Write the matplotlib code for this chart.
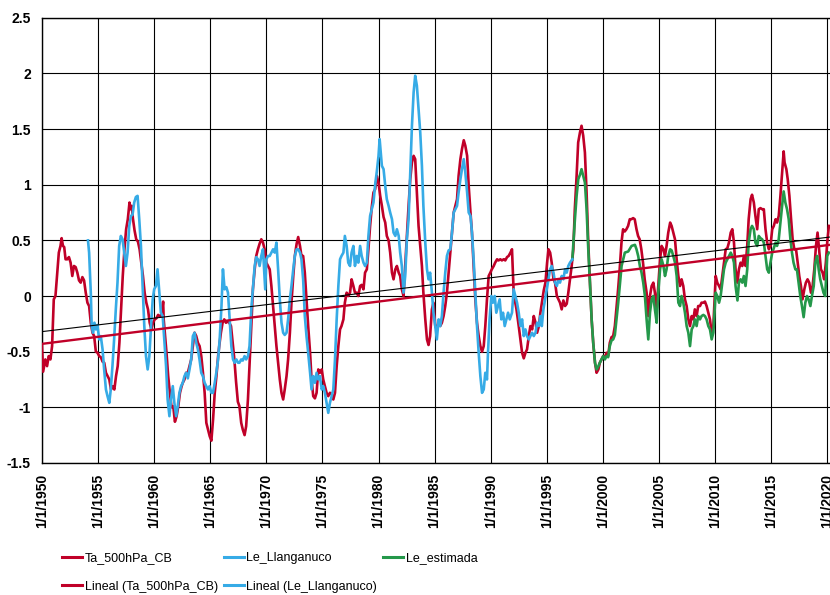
import numpy as np
import matplotlib
matplotlib.use("Agg")
import matplotlib.pyplot as plt
from matplotlib.lines import Line2D

# -----------------------------
# Data (decimal years, anomaly values)
ta_years = [1950.0, 1950.1, 1950.3, 1950.45, 1950.6, 1950.75, 1950.9, 1951.05, 1951.2, 1951.5,
            1951.65, 1951.75, 1951.87, 1951.98, 1952.1, 1952.25, 1952.4, 1952.55, 1952.7, 1952.85,
            1953.0, 1953.15, 1953.3, 1953.45, 1953.6, 1953.75, 1953.9, 1954.05, 1954.2, 1954.35,
            1954.5, 1954.65, 1954.8, 1954.95, 1955.1, 1955.25, 1955.4, 1955.55, 1955.7, 1956.0,
            1956.15, 1956.3, 1956.45, 1956.6, 1956.75, 1956.9, 1957.05, 1957.2, 1957.35, 1957.5,
            1957.65, 1957.8, 1957.9, 1958.0, 1958.1, 1958.25, 1958.4, 1958.55, 1958.7, 1958.85,
            1959.0, 1959.15, 1959.3, 1959.45, 1959.6, 1959.75, 1959.9, 1960.05, 1960.2, 1960.35,
            1960.5, 1960.65, 1960.8, 1960.85, 1960.95, 1961.1, 1961.25, 1961.4, 1961.55, 1961.7,
            1961.85, 1962.0, 1962.15, 1962.3, 1962.45, 1962.55, 1962.7, 1962.85, 1963.0, 1963.15,
            1963.3, 1963.45, 1963.6, 1963.75, 1963.9, 1964.05, 1964.2, 1964.35, 1964.5, 1964.65,
            1964.8, 1964.95, 1965.1, 1965.25, 1965.4, 1965.55, 1965.7, 1965.8, 1965.95, 1966.1,
            1966.25, 1966.4, 1966.55, 1966.7, 1966.85, 1967.0, 1967.15, 1967.3, 1967.46, 1967.6,
            1967.76, 1967.9, 1968.06, 1968.2, 1968.36, 1968.5, 1968.66, 1968.8, 1968.96, 1969.1,
            1969.25, 1969.4, 1969.55, 1969.7, 1969.85, 1970.0, 1970.15, 1970.3, 1970.45, 1970.6,
            1970.75, 1970.9, 1971.05, 1971.2, 1971.35, 1971.5, 1971.64, 1971.8, 1971.94, 1972.1,
            1972.24, 1972.4, 1972.54, 1972.7, 1972.84, 1973.0, 1973.13, 1973.28, 1973.43, 1973.58,
            1973.73, 1973.9, 1974.03, 1974.18, 1974.33, 1974.48, 1974.63, 1974.78, 1974.94, 1975.07,
            1975.22, 1975.37, 1975.52, 1975.67, 1975.82, 1975.97, 1976.12, 1976.27, 1976.42, 1976.57,
            1976.7, 1976.87, 1977.0, 1977.16, 1977.3, 1977.46, 1977.6, 1977.76, 1977.9, 1978.06,
            1978.2, 1978.36, 1978.5, 1978.66, 1978.8, 1978.96, 1979.1, 1979.25, 1979.4, 1979.55,
            1979.7, 1979.85, 1980.0, 1980.15, 1980.3, 1980.45, 1980.6, 1980.74, 1980.9, 1981.04,
            1981.2, 1981.34, 1981.5, 1981.64, 1981.8, 1981.93, 1982.08, 1982.23, 1982.38, 1982.53,
            1982.68, 1982.83, 1982.98, 1983.13, 1983.27, 1983.42, 1983.57, 1983.72, 1983.87, 1984.0,
            1984.17, 1984.32, 1984.46, 1984.6, 1984.76, 1984.9, 1985.06, 1985.2, 1985.36, 1985.5,
            1985.65, 1985.8, 1985.95, 1986.1, 1986.25, 1986.4, 1986.55, 1986.7, 1986.85, 1987.0,
            1987.14, 1987.3, 1987.44, 1987.6, 1987.74, 1987.9, 1988.04, 1988.2, 1988.33, 1988.48,
            1988.63, 1988.78, 1988.93, 1989.08, 1989.23, 1989.38, 1989.52, 1989.67, 1989.82, 1989.97,
            1990.1, 1990.27, 1990.4, 1990.57, 1990.7, 1990.86, 1991.0, 1991.16, 1991.3, 1991.46,
            1991.6, 1991.76, 1991.9, 1992.05, 1992.14, 1992.3, 1992.5, 1992.65, 1992.8, 1992.95,
            1993.1, 1993.24, 1993.4, 1993.54, 1993.7, 1993.84, 1994.0, 1994.14, 1994.3, 1994.43,
            1994.58, 1994.73, 1994.88, 1995.03, 1995.15, 1995.3, 1995.44, 1995.6, 1995.74, 1995.9,
            1996.04, 1996.18, 1996.33, 1996.48, 1996.63, 1996.78, 1996.92, 1997.07, 1997.22, 1997.37,
            1997.5, 1997.66, 1997.8, 1997.96, 1998.1, 1998.25, 1998.4, 1998.55, 1998.7, 1998.85,
            1999.0, 1999.14, 1999.3, 1999.44, 1999.6, 1999.73, 1999.88, 2000.03, 2000.18, 2000.33,
            2000.47, 2000.62, 2000.77, 2000.92, 2001.07, 2001.2, 2001.36, 2001.5, 2001.66, 2001.8,
            2001.95, 2002.1, 2002.25, 2002.4, 2002.54, 2002.7, 2002.84, 2003.0, 2003.14, 2003.28,
            2003.43, 2003.58, 2003.73, 2003.9, 2004.05, 2004.2, 2004.35, 2004.5, 2004.64, 2004.8,
            2004.94, 2005.1, 2005.24, 2005.4, 2005.54, 2005.68, 2005.83, 2006.0, 2006.13, 2006.28,
            2006.43, 2006.58, 2006.73, 2006.88, 2007.02, 2007.17, 2007.32, 2007.47, 2007.62, 2007.77,
            2007.92, 2008.07, 2008.2, 2008.36, 2008.5, 2008.66, 2008.8, 2008.96, 2009.1, 2009.25,
            2009.4, 2009.55, 2009.7, 2009.85, 2010.06, 2010.2, 2010.36, 2010.5, 2010.65, 2010.8,
            2010.95, 2011.1, 2011.24, 2011.4, 2011.54, 2011.69, 2011.83, 2012.0, 2012.13, 2012.28,
            2012.43, 2012.57, 2012.72, 2012.87, 2013.0, 2013.17, 2013.3, 2013.46, 2013.6, 2013.76,
            2013.9, 2014.05, 2014.2, 2014.35, 2014.5, 2014.65, 2014.8, 2014.94, 2015.1, 2015.24,
            2015.4, 2015.53, 2015.68, 2015.83, 2015.98, 2016.12, 2016.2, 2016.36, 2016.48, 2016.63,
            2016.78, 2016.92, 2017.07, 2017.22, 2017.37, 2017.51, 2017.66, 2017.8, 2017.96, 2018.1,
            2018.25, 2018.4, 2018.55, 2018.7, 2018.85, 2019.0, 2019.14, 2019.3, 2019.44, 2019.59,
            2019.73, 2019.88, 2020.0, 2020.15]
ta_vals = [-0.45, -0.68, -0.57, -0.63, -0.54, -0.57, -0.45, -0.03, 0.0, 0.39,
           0.45, 0.52, 0.45, 0.44, 0.33, 0.33, 0.35, 0.30, 0.18, 0.27,
           0.26, 0.21, 0.14, 0.12, 0.17, 0.14, 0.03, -0.06, -0.09, -0.24,
           -0.33, -0.36, -0.50, -0.51, -0.54, -0.55, -0.59, -0.60, -0.69, -0.75,
           -0.84, -0.81, -0.84, -0.72, -0.63, -0.42, -0.12, 0.18, 0.42, 0.60,
           0.69, 0.84, 0.78, 0.81, 0.70, 0.59, 0.51, 0.49, 0.42, 0.30,
           0.18, 0.03, -0.06, -0.12, -0.24, -0.30, -0.24, -0.21, -0.20, -0.17,
           -0.18, -0.18, -0.05, -0.21, -0.33, -0.51, -0.72, -0.87, -1.00, -0.99,
           -1.13, -1.08, -0.99, -0.87, -0.81, -0.78, -0.75, -0.69, -0.69, -0.63,
           -0.57, -0.45, -0.33, -0.36, -0.42, -0.45, -0.54, -0.69, -0.87, -1.14,
           -1.20, -1.26, -1.30, -1.11, -0.87, -0.72, -0.54, -0.45, -0.33, -0.24,
           -0.21, -0.24, -0.23, -0.24, -0.27, -0.42, -0.57, -0.77, -0.95, -0.99,
           -1.14, -1.20, -1.25, -1.17, -0.93, -0.63, -0.27, 0.06, 0.24, 0.36,
           0.42, 0.47, 0.51, 0.48, 0.42, 0.30, 0.27, 0.24, 0.09, -0.09,
           -0.27, -0.45, -0.60, -0.75, -0.87, -0.93, -0.84, -0.72, -0.57, -0.33,
           -0.06, 0.18, 0.36, 0.47, 0.53, 0.45, 0.36, 0.36, 0.21, -0.03,
           -0.27, -0.51, -0.75, -0.90, -0.92, -0.87, -0.66, -0.69, -0.66, -0.75,
           -0.81, -0.87, -0.90, -0.87, -0.88, -0.93, -0.87, -0.63, -0.45, -0.30,
           -0.27, -0.21, -0.06, 0.03, 0.00, 0.03, 0.15, 0.09, 0.03, 0.03,
           0.00, 0.09, 0.10, 0.06, 0.21, 0.24, 0.42, 0.63, 0.80, 0.93,
           0.96, 1.08, 1.02, 0.90, 0.81, 0.71, 0.66, 0.54, 0.50, 0.39,
           0.21, 0.15, 0.24, 0.27, 0.21, 0.18, 0.06, 0.00, 0.27, 0.54,
           0.81, 1.05, 1.20, 1.26, 1.23, 0.93, 0.63, 0.45, 0.27, 0.03,
           -0.21, -0.39, -0.44, -0.36, -0.12, -0.06, -0.27, -0.30, -0.24, -0.27,
           -0.24, -0.18, -0.09, 0.03, 0.21, 0.39, 0.57, 0.75, 0.81, 0.87,
           1.08, 1.23, 1.32, 1.40, 1.35, 1.26, 0.99, 0.75, 0.57, 0.27,
           -0.03, -0.24, -0.36, -0.45, -0.50, -0.45, -0.27, -0.03, 0.18, 0.21,
           0.24, 0.27, 0.30, 0.33, 0.32, 0.33, 0.32, 0.33, 0.32, 0.35,
           0.36, 0.39, 0.42, 0.03, -0.03, -0.12, -0.27, -0.39, -0.51, -0.56,
           -0.51, -0.48, -0.36, -0.27, -0.30, -0.18, -0.24, -0.33, -0.27, -0.15,
           -0.05, 0.05, 0.12, 0.30, 0.42, 0.39, 0.30, 0.15, 0.12, 0.00,
           -0.03, -0.06, -0.12, -0.04, -0.09, -0.07, 0.03, 0.15, 0.27, 0.42,
           0.78, 1.08, 1.38, 1.47, 1.53, 1.44, 1.29, 0.93, 0.48, 0.12,
           -0.21, -0.42, -0.60, -0.69, -0.66, -0.60, -0.57, -0.54, -0.55, -0.51,
           -0.54, -0.42, -0.37, -0.36, -0.27, -0.12, 0.06, 0.24, 0.48, 0.60,
           0.58, 0.60, 0.63, 0.69, 0.69, 0.70, 0.69, 0.60, 0.54, 0.51,
           0.42, 0.30, 0.15, 0.03, -0.18, 0.00, 0.09, 0.12, 0.03, -0.12,
           0.09, 0.33, 0.45, 0.42, 0.36, 0.45, 0.57, 0.66, 0.63, 0.57,
           0.51, 0.33, 0.18, 0.09, 0.15, 0.09, -0.03, -0.09, -0.21, -0.27,
           -0.18, -0.21, -0.12, -0.18, -0.09, -0.09, -0.06, -0.06, -0.05, -0.09,
           -0.15, -0.21, -0.33, -0.27, 0.18, 0.12, 0.09, 0.06, 0.18, 0.30,
           0.42, 0.43, 0.48, 0.57, 0.60, 0.48, 0.24, 0.12, 0.24, 0.30,
           0.27, 0.36, 0.27, 0.45, 0.69, 0.87, 0.91, 0.84, 0.72, 0.60,
           0.78, 0.79, 0.78, 0.78, 0.60, 0.48, 0.42, 0.45, 0.60, 0.63,
           0.69, 0.66, 0.72, 0.90, 1.11, 1.30, 1.20, 1.14, 1.05, 0.90,
           0.69, 0.51, 0.42, 0.42, 0.30, 0.18, 0.09, -0.03, 0.06, 0.12,
           0.15, 0.12, 0.03, 0.09, 0.24, 0.45, 0.57, 0.39, 0.24, 0.21,
           0.15, 0.30, 0.48, 0.63]

le_years = [1954.1, 1954.2, 1954.35, 1954.43, 1954.55, 1954.67, 1954.8, 1954.94, 1955.1, 1955.24,
            1955.4, 1955.54, 1955.7, 1955.84, 1956.0, 1956.13, 1956.28, 1956.43, 1956.58, 1956.73,
            1956.88, 1957.03, 1957.18, 1957.33, 1957.48, 1957.63, 1957.78, 1957.93, 1958.07, 1958.22,
            1958.37, 1958.52, 1958.67, 1958.82, 1958.97, 1959.12, 1959.27, 1959.42, 1959.57, 1959.72,
            1959.87, 1960.0, 1960.16, 1960.3, 1960.46, 1960.6, 1960.76, 1960.9, 1961.06, 1961.2,
            1961.36, 1961.5, 1961.66, 1961.8, 1961.96, 1962.1, 1962.25, 1962.4, 1962.55, 1962.7,
            1962.85, 1963.0, 1963.15, 1963.3, 1963.45, 1963.6, 1963.75, 1963.9, 1964.04, 1964.2,
            1964.34, 1964.5, 1964.64, 1964.8, 1964.94, 1965.1, 1965.24, 1965.4, 1965.54, 1965.7,
            1965.84, 1966.0, 1966.13, 1966.28, 1966.43, 1966.58, 1966.73, 1966.88, 1967.03, 1967.18,
            1967.33, 1967.48, 1967.6, 1967.76, 1967.9, 1968.06, 1968.2, 1968.36, 1968.5, 1968.66,
            1968.8, 1968.96, 1969.1, 1969.25, 1969.4, 1969.55, 1969.7, 1969.8, 1969.9, 1970.0,
            1970.15, 1970.3, 1970.45, 1970.6, 1970.75, 1970.9, 1971.05, 1971.2, 1971.35, 1971.5,
            1971.64, 1971.8, 1971.94, 1972.1, 1972.24, 1972.4, 1972.54, 1972.7, 1972.84, 1973.0,
            1973.13, 1973.28, 1973.43, 1973.58, 1973.73, 1973.9, 1974.03, 1974.18, 1974.33, 1974.48,
            1974.63, 1974.78, 1974.94, 1975.07, 1975.22, 1975.37, 1975.52, 1975.67, 1975.82, 1975.97,
            1976.12, 1976.27, 1976.42, 1976.57, 1976.7, 1976.87, 1977.0, 1977.16, 1977.3, 1977.46,
            1977.6, 1977.76, 1977.9, 1978.06, 1978.2, 1978.36, 1978.5, 1978.66, 1978.8, 1978.96,
            1979.1, 1979.25, 1979.4, 1979.55, 1979.7, 1979.85, 1980.0, 1980.1, 1980.2, 1980.3,
            1980.45, 1980.6, 1980.74, 1980.9, 1981.04, 1981.2, 1981.34, 1981.5, 1981.64, 1981.8,
            1981.93, 1982.08, 1982.23, 1982.38, 1982.53, 1982.68, 1982.83, 1982.98, 1983.13, 1983.27,
            1983.42, 1983.57, 1983.72, 1983.87, 1984.0, 1984.17, 1984.32, 1984.46, 1984.6, 1984.76,
            1984.9, 1985.06, 1985.2, 1985.36, 1985.5, 1985.65, 1985.8, 1985.95, 1986.1, 1986.25,
            1986.4, 1986.55, 1986.7, 1986.85, 1987.0, 1987.14, 1987.3, 1987.44, 1987.6, 1987.74,
            1987.9, 1988.04, 1988.2, 1988.33, 1988.48, 1988.63, 1988.78, 1988.93, 1989.08, 1989.23,
            1989.38, 1989.52, 1989.67, 1989.76, 1989.9, 1990.06, 1990.2, 1990.36, 1990.5, 1990.65,
            1990.8, 1990.95, 1991.1, 1991.25, 1991.4, 1991.55, 1991.7, 1991.9, 1992.05, 1992.2,
            1992.35, 1992.5, 1992.65, 1992.8, 1992.95, 1993.1, 1993.24, 1993.4, 1993.54, 1993.7,
            1993.84, 1994.0, 1994.14, 1994.3, 1994.43, 1994.56, 1994.7, 1995.0, 1995.3, 1995.44,
            1995.6, 1995.74, 1995.9, 1996.04, 1996.18, 1996.33, 1996.48, 1996.63, 1996.78, 1996.92,
            1997.07, 1997.28]
le_vals = [0.50, 0.39, 0.03, -0.27, -0.33, -0.24, -0.30, -0.26, -0.39, -0.36,
           -0.48, -0.66, -0.84, -0.90, -0.96, -0.84, -0.63, -0.39, -0.12, 0.12,
           0.45, 0.54, 0.51, 0.39, 0.27, 0.39, 0.63, 0.72, 0.73, 0.84,
           0.89, 0.90, 0.69, 0.45, 0.09, -0.27, -0.54, -0.66, -0.54, -0.27,
           -0.03, 0.06, 0.09, 0.24, 0.03, -0.15, -0.18, -0.39, -0.63, -0.93,
           -1.08, -0.93, -0.81, -0.96, -1.08, -0.99, -0.87, -0.81, -0.78, -0.72,
           -0.69, -0.74, -0.66, -0.57, -0.36, -0.33, -0.42, -0.48, -0.57, -0.69,
           -0.72, -0.78, -0.81, -0.84, -0.81, -0.87, -0.87, -0.78, -0.69, -0.57,
           -0.39, -0.09, 0.24, 0.06, 0.08, 0.03, -0.21, -0.45, -0.57, -0.60,
           -0.57, -0.60, -0.60, -0.57, -0.58, -0.54, -0.57, -0.54, -0.45, -0.12,
           0.06, 0.27, 0.35, 0.33, 0.27, 0.36, 0.42, 0.24, 0.06, 0.33,
           0.36, 0.36, 0.39, 0.42, 0.39, 0.48, 0.24, -0.03, -0.24, -0.33,
           -0.35, -0.33, -0.21, -0.03, 0.09, 0.24, 0.36, 0.42, 0.42, 0.39,
           0.33, 0.15, -0.18, -0.36, -0.51, -0.69, -0.84, -0.72, -0.78, -0.69,
           -0.75, -0.72, -0.84, -0.81, -0.87, -0.96, -1.05, -0.96, -0.90, -0.84,
           -0.57, -0.21, 0.09, 0.33, 0.36, 0.39, 0.54, 0.45, 0.30, 0.27,
           0.39, 0.45, 0.27, 0.36, 0.30, 0.45, 0.36, 0.30, 0.27, 0.30,
           0.54, 0.72, 0.78, 0.84, 1.00, 1.12, 1.26, 1.41, 1.29, 1.17,
           1.14, 0.99, 0.87, 0.81, 0.75, 0.69, 0.57, 0.54, 0.60, 0.54,
           0.39, 0.27, 0.03, 0.18, 0.51, 0.69, 1.11, 1.53, 1.83, 1.98,
           1.89, 1.68, 1.47, 1.17, 0.81, 0.48, 0.24, 0.15, 0.21, 0.03,
           -0.15, -0.27, -0.39, -0.21, -0.27, -0.18, 0.03, 0.21, 0.36, 0.41,
           0.42, 0.57, 0.75, 0.78, 0.81, 0.93, 1.05, 1.14, 1.23, 1.11,
           0.93, 0.75, 0.72, 0.57, 0.33, 0.03, -0.27, -0.51, -0.72, -0.87,
           -0.84, -0.69, -0.75, -0.51, -0.21, 0.00, -0.06, 0.00, -0.15, -0.09,
           -0.03, -0.21, -0.15, -0.27, -0.21, -0.15, -0.21, -0.15, 0.06, 0.00,
           -0.06, -0.15, -0.27, -0.21, -0.36, -0.30, -0.36, -0.39, -0.36, -0.33,
           -0.36, -0.33, -0.24, -0.27, -0.18, -0.27, -0.12, 0.06, 0.24, 0.27,
           0.21, 0.12, 0.09, 0.15, 0.12, 0.18, 0.15, 0.24, 0.21, 0.27,
           0.30, 0.33]

est_years = [1997.28, 1997.51, 1997.66, 1997.81, 1997.96, 1998.1, 1998.25, 1998.4, 1998.55, 1998.7,
             1998.85, 1999.0, 1999.14, 1999.3, 1999.44, 1999.6, 1999.73, 1999.88, 2000.03, 2000.18,
             2000.33, 2000.47, 2000.62, 2000.77, 2000.92, 2001.07, 2001.37, 2001.67, 2001.96, 2002.26,
             2002.56, 2002.86, 2003.0, 2003.15, 2003.3, 2003.45, 2003.6, 2003.75, 2003.9, 2004.05,
             2004.2, 2004.35, 2004.5, 2004.64, 2004.8, 2004.94, 2005.1, 2005.24, 2005.4, 2005.54,
             2005.68, 2005.83, 2006.0, 2006.13, 2006.28, 2006.43, 2006.58, 2006.73, 2006.88, 2007.02,
             2007.17, 2007.32, 2007.47, 2007.62, 2007.77, 2007.92, 2008.07, 2008.2, 2008.36, 2008.5,
             2008.66, 2008.8, 2008.96, 2009.1, 2009.25, 2009.4, 2009.55, 2009.7, 2009.85, 2010.06,
             2010.2, 2010.36, 2010.5, 2010.65, 2010.8, 2010.95, 2011.1, 2011.24, 2011.4, 2011.54,
             2011.69, 2011.83, 2012.0, 2012.13, 2012.28, 2012.43, 2012.57, 2012.72, 2012.87, 2013.0,
             2013.17, 2013.3, 2013.46, 2013.6, 2013.76, 2013.9, 2014.05, 2014.2, 2014.35, 2014.5,
             2014.65, 2014.8, 2014.94, 2015.1, 2015.24, 2015.4, 2015.53, 2015.68, 2015.83, 2015.98,
             2016.12, 2016.27, 2016.42, 2016.57, 2016.72, 2016.86, 2017.0, 2017.16, 2017.3, 2017.45,
             2017.6, 2017.75, 2017.9, 2018.05, 2018.2, 2018.34, 2018.5, 2018.64, 2018.8, 2018.94,
             2019.1, 2019.24, 2019.38, 2019.53, 2019.67, 2019.82, 2020.0, 2020.15]
est_vals = [0.33, 0.69, 0.90, 1.05, 1.09, 1.14, 1.08, 1.02, 0.78, 0.42,
            0.12, -0.21, -0.42, -0.60, -0.66, -0.63, -0.60, -0.57, -0.54, -0.57,
            -0.54, -0.55, -0.45, -0.40, -0.39, -0.35, -0.06, 0.27, 0.39, 0.40,
            0.45, 0.46, 0.42, 0.36, 0.27, 0.21, 0.12, 0.00, -0.21, -0.39,
            -0.15, -0.03, 0.00, -0.12, -0.24, 0.03, 0.24, 0.33, 0.27, 0.18,
            0.24, 0.36, 0.42, 0.41, 0.36, 0.30, 0.18, -0.06, -0.09, 0.00,
            -0.06, -0.15, -0.27, -0.33, -0.45, -0.30, -0.27, -0.21, -0.27, -0.18,
            -0.21, -0.18, -0.17, -0.18, -0.21, -0.27, -0.30, -0.39, -0.33, 0.03,
            0.00, -0.06, 0.00, 0.12, 0.24, 0.30, 0.33, 0.36, 0.39, 0.36,
            0.30, 0.09, -0.04, 0.12, 0.15, 0.12, 0.18, 0.09, 0.24, 0.48,
            0.60, 0.63, 0.60, 0.48, 0.45, 0.54, 0.52, 0.51, 0.48, 0.36,
            0.24, 0.21, 0.30, 0.39, 0.43, 0.48, 0.45, 0.51, 0.66, 0.81,
            0.94, 0.84, 0.78, 0.69, 0.51, 0.39, 0.30, 0.24, 0.24, 0.12,
            0.00, -0.09, -0.19, -0.06, 0.00, -0.03, -0.09, 0.00, 0.09, 0.30,
            0.36, 0.24, 0.15, 0.09, 0.03, 0.00, 0.36, 0.39]

# Trend lines as drawn (value at start and end year)
trend_years = [1950, 2020.25]
ta_trend = [-0.43, 0.46]
le_trend = [-0.32, 0.53]

xtick_years = list(range(1950, 2021, 5))
xtick_labels = [f"1/1/{y}" for y in xtick_years]
ytick_vals = [-1.5, -1, -0.5, 0, 0.5, 1, 1.5, 2, 2.5]
ytick_labels = ["-1.5", "-1", "-0.5", "0", "0.5", "1", "1.5", "2", "2.5"]

red = "#C00028"
blue = "#36ABE6"
green = "#24984A"

# -----------------------------
plt.rcParams['font.family'] = ['Liberation Sans', 'DejaVu Sans']

fig = plt.figure(figsize=(8.3, 5.95), dpi=100)
ax = fig.add_axes([0.0506, 0.222, 0.9494, 0.748])

ax.plot(ta_years, ta_vals, color=red, lw=1.9, zorder=3)
ax.plot(le_years, le_vals, color=blue, lw=1.9, zorder=4)
ax.plot(est_years, est_vals, color=green, lw=1.9, zorder=3)
ax.plot(trend_years, ta_trend, color=red, lw=1.7, zorder=5)
ax.plot(trend_years, le_trend, color="black", lw=0.8, zorder=5)

ax.set_xlim(1950, 2020.25)
ax.set_ylim(-1.5, 2.5)
ax.set_xticks(xtick_years)
ax.set_xticklabels(xtick_labels, rotation=90, fontweight='bold', fontsize=10, va='top')
ax.set_yticks(ytick_vals)
ax.set_yticklabels(ytick_labels, fontweight='bold', fontsize=10)
ax.tick_params(axis='x', length=0, pad=8)
ax.tick_params(axis='y', length=0, pad=8)
ax.grid(True, color='black', lw=0.8)
ax.set_axisbelow(True)
for side in ['left', 'bottom', 'top']:
    ax.spines[side].set_linewidth(1.0)
ax.spines['right'].set_visible(False)

handles = [
    Line2D([], [], color=red, lw=2.2),
    Line2D([], [], color=red, lw=2.2),
    Line2D([], [], color=blue, lw=2.2),
    Line2D([], [], color=blue, lw=2.2),
    Line2D([], [], color=green, lw=2.2),
]
labels = ["Ta_500hPa_CB", "Lineal (Ta_500hPa_CB)", "Le_Llanganuco",
          "Lineal (Le_Llanganuco)", "Le_estimada"]
fig.legend(handles, labels, ncol=3, loc='upper left', bbox_to_anchor=(0.0747, 0.0715),
           frameon=False, handlelength=1.6, handletextpad=0.2, columnspacing=0.5,
           labelspacing=1.3, borderpad=0, borderaxespad=0,
           prop={'family': 'Liberation Sans', 'size': 9})

fig.savefig("out.png", dpi=100)
